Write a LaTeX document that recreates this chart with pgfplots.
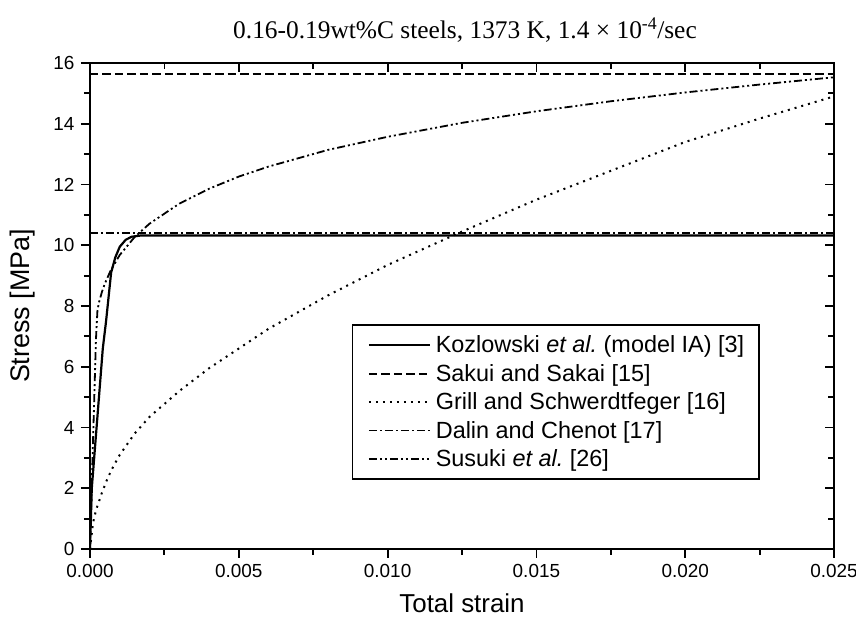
\documentclass[border=0pt]{standalone}
\usepackage{fontspec}
\setmainfont{Liberation Sans}
\newfontfamily\seriffont{Liberation Serif}
\usepackage{pgfplots}
\pgfplotsset{compat=1.18}
\usetikzlibrary{calc}
\begin{document}
\begin{tikzpicture}
\pgfplotsset{
  common/.style={
    scale only axis, width=744bp, height=486bp,
    xmin=0, xmax=0.025, ymin=0, ymax=16,
    scaled x ticks=false, scaled y ticks=false,
    xtick={0,0.005,0.01,0.015,0.02,0.025},
    ytick={0,2,4,6,8,10,12,14,16},
    minor x tick num=1, minor y tick num=1,
    major tick length=9bp, minor tick length=6bp,
    axis line style={line width=2.2bp},
    every tick/.style={line width=1.8bp, black},
    every minor tick/.style={line width=1.8bp, black},
  }
}
\begin{axis}[common, name=ax,
  xticklabels={0.000,0.005,0.010,0.015,0.020,0.025},
  tick align=outside, xtick pos=left, ytick pos=left,
  /pgf/number format/assume math mode=true,
  tick label style={font=\fontsize{19}{19}\selectfont},
  xticklabel style={yshift=-3bp},
  yticklabel style={xshift=-3bp},
  legend style={at={(0.9005,0.142)}, anchor=south east, draw=black, line width=1.5bp,
    font=\fontsize{23.5}{23.5}\selectfont, row sep=10bp, inner xsep=15bp, inner ysep=11bp,
    nodes={inner sep=0pt}},
  legend cell align=left,
  legend image code/.code={\draw[#1] (0bp,0bp) -- (61bp,0bp); \path (66bp,0bp);},
]
\addplot[black, line width=2.2bp] coordinates {
(0,0) (0.00006,2.0) (0.00043,6.6) (0.00054,7.5) (0.00071,9.1) (0.00085,9.6)
(0.001,9.95) (0.0012,10.18) (0.0014,10.28) (0.0017,10.32) (0.025,10.32)};
\addlegendentry{Kozlowski \textit{et al.}\ (model IA) [3]}
\addplot[black, line width=1.8bp, dash pattern=on 8.5bp off 4bp] coordinates {
(0,15.64) (0.025,15.64)};
\addlegendentry{Sakui and Sakai [15]}
\addplot[black, line width=2bp, dash pattern=on 2bp off 5bp] coordinates {
(0,0) (0.0001,0.85) (0.0002,1.27) (0.0004,1.85) (0.0006,2.35) (0.0008,2.75)
(0.001,3.1) (0.0015,3.8) (0.002,4.35) (0.003,5.2) (0.004,5.95) (0.005,6.6)
(0.006,7.25) (0.008,8.35) (0.010,9.35) (0.0125,10.45) (0.015,11.5)
(0.0175,12.45) (0.020,13.4) (0.0225,14.17) (0.025,14.9)};
\addlegendentry{Grill and Schwerdtfeger [16]}
\addplot[black, line width=1.8bp, dash pattern=on 8bp off 3bp on 2bp off 3bp] coordinates {
(0,10.4) (0.025,10.4)};
\addlegendentry{Dalin and Chenot [17]}
\addplot[black, line width=1.8bp, dash pattern=on 8bp off 3bp on 2bp off 3bp on 2bp off 3bp] coordinates {
(0,0) (0.0001,3.5) (0.0002,6.9) (0.00025,7.85) (0.0003,8.11) (0.0004,8.46)
(0.0005,8.74) (0.0007,9.18) (0.001,9.68) (0.0015,10.27) (0.002,10.71)
(0.003,11.37) (0.004,11.86) (0.005,12.26) (0.006,12.59) (0.008,13.14)
(0.010,13.57) (0.0125,14.03) (0.015,14.41) (0.0175,14.74) (0.020,15.03)
(0.0225,15.29) (0.025,15.53)};
\addlegendentry{Susuki \textit{et al.}\ [26]}
\end{axis}
\begin{axis}[common, tick align=inside, xtick pos=right, ytick pos=right,
  xticklabels={}, yticklabels={}]
\end{axis}
\node[font=\fontsize{26}{26}\selectfont] at ($(ax.south)+(0,-54bp)$) {Total strain};
\node[font=\fontsize{27}{27}\selectfont, rotate=90] at ($(ax.west)+(-67bp,0)$) {Stress [MPa]};
\node[font=\seriffont\fontsize{25.5}{25.5}\selectfont] at ($(ax.north)+(3bp,33bp)$)
  {0.16-0.19wt\%C steels, 1373 K, 1.4 × 10\textsuperscript{-4}/sec};
\pgfresetboundingbox
\path[use as bounding box] ($(ax.south west)+(-90bp,-69bp)$) rectangle ($(ax.north east)+(22bp,63bp)$);
\end{tikzpicture}
\end{document}
